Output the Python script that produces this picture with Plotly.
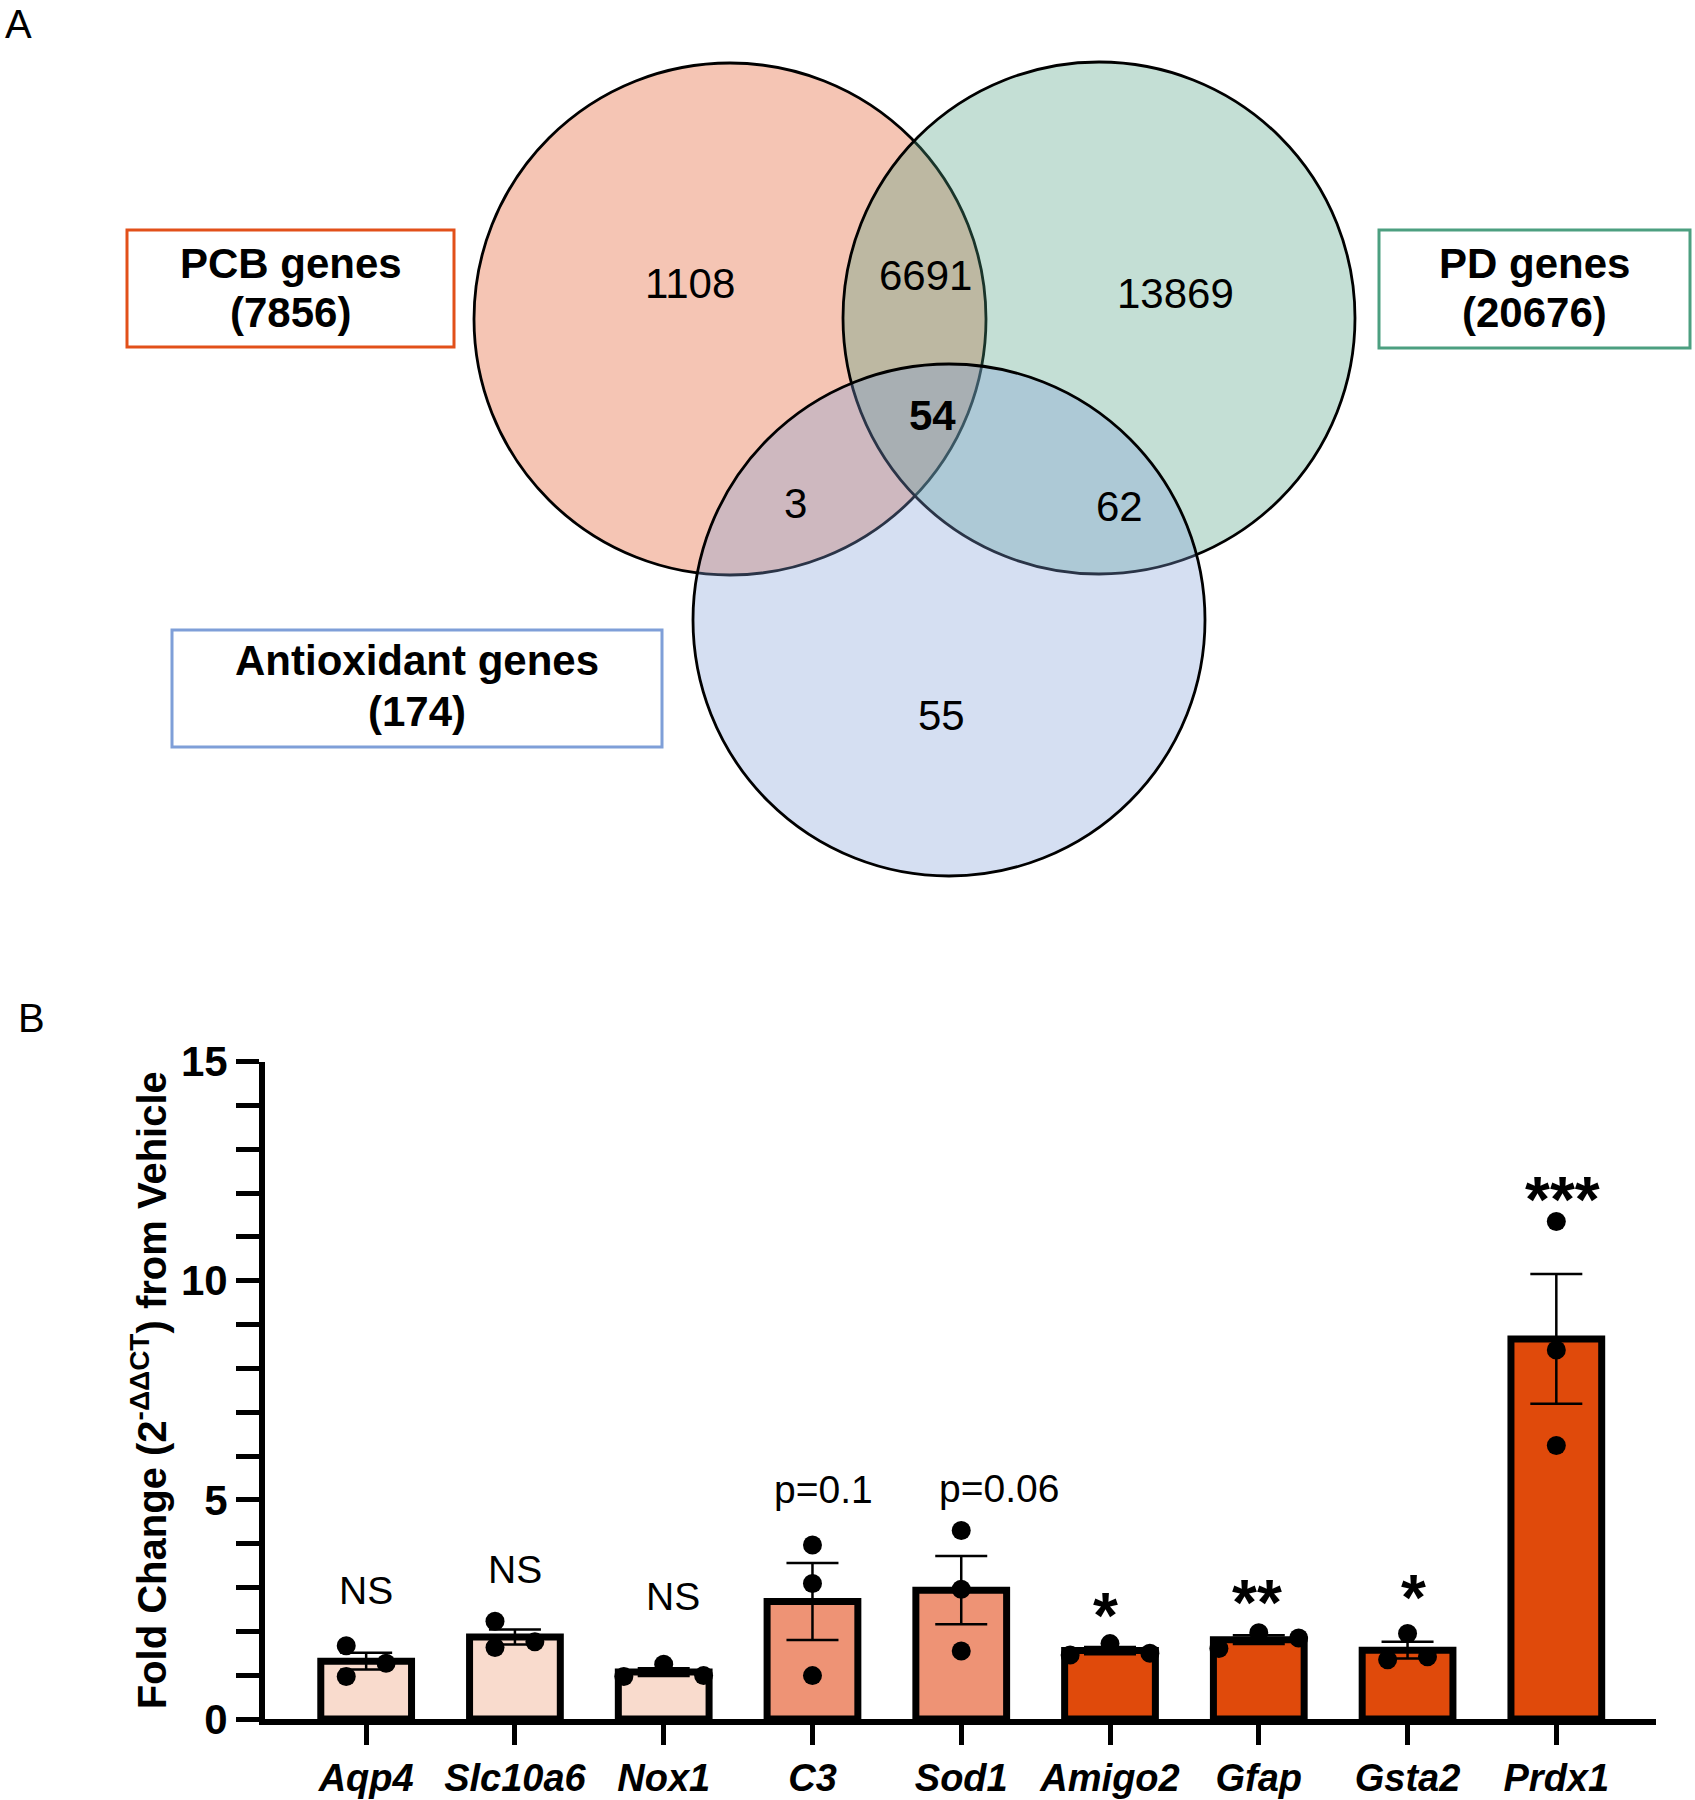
import plotly.graph_objects as go

# ---------------- Panel A: Venn diagram data ----------------
set_names = ["PCB genes", "PD genes", "Antioxidant genes"]
set_totals = [7856, 20676, 174]
set_colors = ["226,80,26", "76,159,128", "127,159,216"]

region_names = ["PCB only", "PCB+PD", "PD only", "PCB+PD+AO", "PCB+AO", "PD+AO", "AO only"]
region_counts = [1108, 6691, 13869, 54, 3, 62, 55]

# ---------------- Panel B: qPCR fold change ----------------
genes = ["Aqp4", "Slc10a6", "Nox1", "C3", "Sod1", "Amigo2", "Gfap", "Gsta2", "Prdx1"]
fold_mean = [1.32, 1.87, 1.07, 2.68, 2.94, 1.56, 1.81, 1.57, 8.67]
fold_sem = [0.19, 0.17, 0.09, 0.88, 0.78, 0.08, 0.10, 0.19, 1.48]
fold_points = [
    [1.67, 0.97, 1.27],
    [2.23, 1.63, 1.76],
    [0.97, 1.25, 0.99],
    [3.97, 3.09, 0.99],
    [4.30, 2.96, 1.55],
    [1.46, 1.72, 1.50],
    [1.61, 1.97, 1.85],
    [1.95, 1.35, 1.42],
    [11.35, 8.42, 6.24],
]
sig_text = ["NS", "NS", "NS", "p=0.1", "p=0.06", "*", "**", "*", "***"]
sig_group = ["ns", "ns", "ns", "trend", "trend", "sig", "sig", "sig", "sig"]

# ---------------- layout / style settings ----------------
W, H = 1695, 1800
FONT = "Liberation Sans, Arial, Helvetica, sans-serif"
group_colors = {"ns": "#F9DBCD", "trend": "#EE9375", "sig": "#E04A0B"}

# venn geometry (pixel space of the top panel)
circle_r = 256
circle_centers = [(730, 319), (1099, 318), (949, 620)]
box_rects = [(127, 230, 454, 347), (1379, 230, 1690, 348), (172, 630, 662, 747)]
box_line_y = [(263, 312), (263, 312), (660, 711)]
region_xy = [(690, 283), (925, 275), (1175, 293), (932, 415), (795, 503), (1119, 506), (941, 715)]

# bar chart layout helpers
jitter_step = 0.134
dot_offsets = [[-1, -1, 1], [-1, -1, 1], [-2, 0, 2], [0, 0, 0], [0, 0, 0],
               [-2, 0, 2], [-2, 0, 2], [0, -1, 1], [0, 0, 0]]
label_y = [2.93, 3.42, 2.80, 5.23, 5.25, 2.35, 2.65, 2.75, 11.85]
label_dx = [0, 0, 9, 11, 38, -5, -2, 6, 6]

fig = go.Figure()

# bars with SEM
fig.add_trace(go.Bar(
    x=list(range(len(genes))),
    y=fold_mean,
    width=0.61,
    marker=dict(color=[group_colors[g] for g in sig_group],
                line=dict(color="black", width=7)),
    error_y=dict(type="data", array=fold_sem, visible=True,
                 color="black", thickness=2.5, width=26),
    showlegend=False,
    xaxis="x", yaxis="y",
))

# individual points
xs, ys = [], []
for i, pts in enumerate(fold_points):
    for v, o in zip(pts, dot_offsets[i]):
        xs.append(i + o * jitter_step)
        ys.append(v)
fig.add_trace(go.Scatter(
    x=xs, y=ys, mode="markers",
    marker=dict(color="black", size=19),
    showlegend=False, xaxis="x", yaxis="y",
))

shapes = []
annotations = []

# venn circles
for (cx, cy), col in zip(circle_centers, set_colors):
    shapes.append(dict(
        type="circle", xref="x2", yref="y2",
        x0=cx - circle_r, x1=cx + circle_r, y0=cy - circle_r, y1=cy + circle_r,
        fillcolor=f"rgba({col},0.33)", line=dict(color="black", width=2.8),
        layer="above",
    ))

# set label boxes
for name, total, col, (x0, y0, x1, y1), (ly1, ly2) in zip(set_names, set_totals, set_colors, box_rects, box_line_y):
    shapes.append(dict(
        type="rect", xref="x2", yref="y2", x0=x0, x1=x1, y0=y0, y1=y1,
        fillcolor="white", line=dict(color=f"rgb({col})", width=3),
        layer="above",
    ))
    for txt, ly in ((name, ly1), (f"({total})", ly2)):
        annotations.append(dict(
            x=(x0 + x1) / 2, y=ly, xref="x2", yref="y2", text=f"<b>{txt}</b>",
            showarrow=False, font=dict(family=FONT, size=42, color="black"),
            xanchor="center", yanchor="middle",
        ))

# venn region counts
for name, cnt, (rx, ry) in zip(region_names, region_counts, region_xy):
    txt = f"<b>{cnt}</b>" if name == "PCB+PD+AO" else str(cnt)
    annotations.append(dict(
        x=rx, y=ry, xref="x2", yref="y2", text=txt, showarrow=False,
        font=dict(family=FONT, size=42, color="black"),
        xanchor="center", yanchor="middle",
    ))

# significance labels
for i, (t, ly, dx) in enumerate(zip(sig_text, label_y, label_dx)):
    star = t.startswith("*")
    annotations.append(dict(
        x=i, y=ly, xref="x", yref="y", text=f"<b>{t}</b>" if star else t,
        showarrow=False, xshift=dx,
        font=dict(family=FONT, size=64 if star else 39, color="black"),
        xanchor="center", yanchor="middle",
    ))

# panel letters
for letter, px_, py_ in (("A", 18, 24), ("B", 31, 1018)):
    annotations.append(dict(
        x=px_ / W, y=1 - py_ / H, xref="paper", yref="paper", text=letter,
        showarrow=False, font=dict(family=FONT, size=40, color="black"),
        xanchor="center", yanchor="middle",
    ))

fig.update_layout(
    width=W, height=H,
    margin=dict(l=0, r=0, t=0, b=0, pad=0, autoexpand=False),
    paper_bgcolor="white",
    plot_bgcolor="rgba(0,0,0,0)",
    font=dict(family=FONT, color="black"),
    shapes=shapes,
    annotations=annotations,
    xaxis=dict(
        domain=[265 / W, 1656 / W],
        range=[-0.68, 8.67],
        tickvals=list(range(len(genes))),
        ticktext=[f"<b><i>{g}</i></b>" for g in genes],
        tickfont=dict(family=FONT, size=38, color="black"),
        ticks="outside", ticklen=20, tickwidth=5, tickcolor="black",
        showline=True, linewidth=6, linecolor="black",
        showgrid=False, zeroline=False, fixedrange=True, automargin=False,
    ),
    yaxis=dict(
        domain=[1 - 1719 / H, 1 - 1061.5 / H],
        range=[0, 15],
        tickvals=[0, 5, 10, 15],
        ticktext=["<b>0</b>", "<b>5</b>", "<b>10</b>", "<b>15</b>"],
        tickfont=dict(family=FONT, size=42, color="black"),
        ticks="outside", ticklen=23, tickwidth=5, tickcolor="black",
        minor=dict(dtick=1, tick0=0, ticks="outside", ticklen=23, tickwidth=5,
                   tickcolor="black", showgrid=False),
        showline=True, linewidth=6, linecolor="black",
        showgrid=False, zeroline=False, fixedrange=True, automargin=False,
        title=dict(text="<b>Fold Change (2<sup>-ΔΔCT</sup>) from Vehicle</b>",
                   font=dict(family=FONT, size=40, color="black"), standoff=4),
    ),
    xaxis2=dict(domain=[0, 1], range=[0, W], visible=False, fixedrange=True,
                anchor="y2", automargin=False),
    yaxis2=dict(domain=[1 - 1000 / H, 1], range=[1000, 0], visible=False,
                fixedrange=True, anchor="x2", automargin=False),
)

fig.write_html("out.html", config={"displayModeBar": False},
               post_script="document.body.style.margin='0';")
